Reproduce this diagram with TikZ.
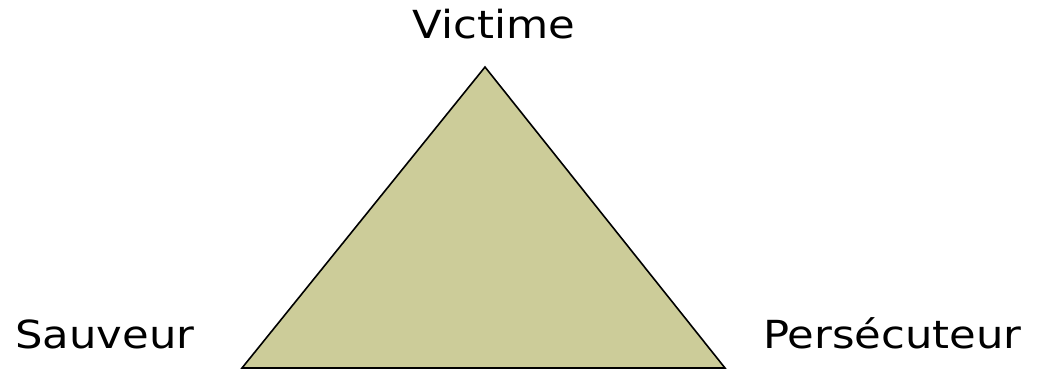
\documentclass[tikz,border=0pt]{standalone}
\usepackage{fontspec}
\setmainfont[FakeStretch=1.12]{DejaVu Sans}
\definecolor{trifill}{RGB}{204,204,153}
\begin{document}
\begin{tikzpicture}[x=0.75pt,y=-0.75pt,
  lbl/.style={inner sep=0pt,font=\fontsize{29}{34}\selectfont},
  tri/.style={fill=trifill,draw=black,line width=1.2pt,line join=miter}]
\useasboundingbox (0,0) rectangle (1037,368);
\coordinate (top) at (485,67);
\coordinate (bl) at (242,368);
\coordinate (br) at (725,368);
\draw[tri] (top) -- (br) -- (bl) -- cycle;
\node[lbl,anchor=base] (v) at (494,38) {Victime};
\node[lbl,anchor=base west] (s) at (15,348) {Sauveur};
\node[lbl,anchor=base west] (p) at (763,348) {Persécuteur};
\end{tikzpicture}
\end{document}
